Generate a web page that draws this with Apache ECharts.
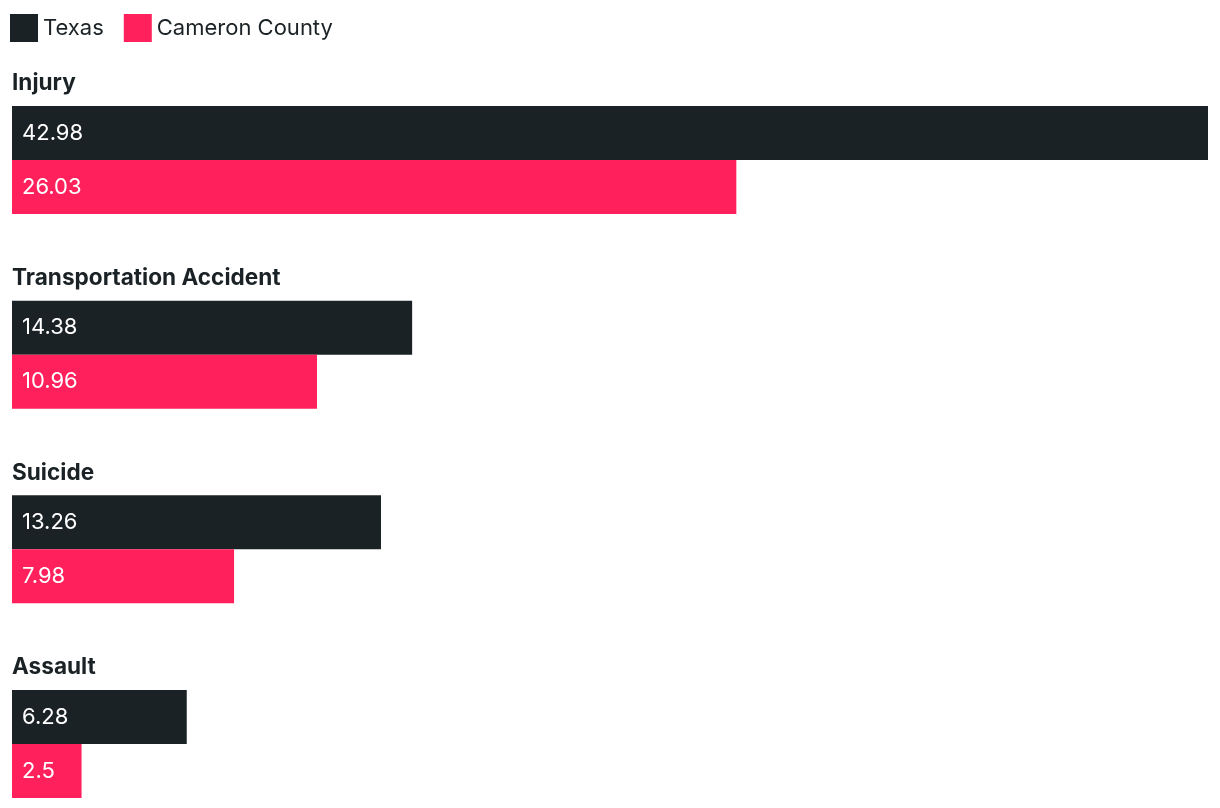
<!DOCTYPE html>
<html>
<head>
<meta charset="utf-8">
<script src="https://cdn.jsdelivr.net/npm/echarts@6/dist/echarts.min.js"></script>
<style>
  html, body { margin: 0; padding: 0; background: #fff; }
  #chart { width: 1220px; height: 808px; }
</style>
</head>
<body>
<div id="chart"></div>
<script>
// 数据
const categories = ['Injury', 'Transportation Accident', 'Suicide', 'Assault'];
const texasValues = [42.98, 14.38, 13.26, 6.28];
const cameronValues = [26.03, 10.96, 7.98, 2.5];
const seriesNames = ['Texas', 'Cameron County'];

const darkColor = '#1b2226';
const pinkColor = '#ff205c';
const fontFamily = 'Inter, "Noto Sans", sans-serif';

const chart = echarts.init(document.getElementById('chart'));

const barLabel = {
  show: true,
  position: 'insideLeft',
  distance: 10,
  color: '#fff',
  fontSize: 22,
  fontFamily: fontFamily
};

const option = {
  animation: false,
  backgroundColor: '#fff',
  legend: {
    left: 5,
    top: 9,
    icon: 'rect',
    itemWidth: 28,
    itemHeight: 28,
    itemGap: 20,
    textStyle: {
      color: darkColor,
      fontSize: 22,
      fontFamily: fontFamily
    },
    data: seriesNames
  },
  // 类目点放在每组两根柱子的交界处
  grid: {
    left: 12,
    right: 12,
    top: 160,
    height: 584
  },
  xAxis: {
    type: 'value',
    min: 0,
    max: 42.98,
    show: false
  },
  yAxis: {
    type: 'category',
    inverse: true,
    boundaryGap: false,
    data: categories,
    axisLine: { show: false },
    axisTick: { show: false },
    splitLine: { show: false },
    axisLabel: {
      inside: true,
      margin: 0,
      // 标题放在每组柱子上方
      formatter: (v) => '{t|' + v + '}\n{g|}',
      rich: {
        t: {
          color: darkColor,
          fontSize: 22.6,
          fontWeight: 'bold',
          fontFamily: fontFamily,
          lineHeight: 28
        },
        g: {
          height: 153
        }
      }
    }
  },
  series: [
    {
      name: seriesNames[0],
      type: 'bar',
      data: texasValues,
      barWidth: 54,
      barGap: '0%',
      clip: false,
      itemStyle: { color: darkColor },
      label: barLabel
    },
    {
      name: seriesNames[1],
      type: 'bar',
      data: cameronValues,
      barWidth: 54,
      barGap: '0%',
      clip: false,
      itemStyle: { color: pinkColor },
      label: barLabel
    }
  ]
};

chart.setOption(option);
</script>
</body>
</html>
